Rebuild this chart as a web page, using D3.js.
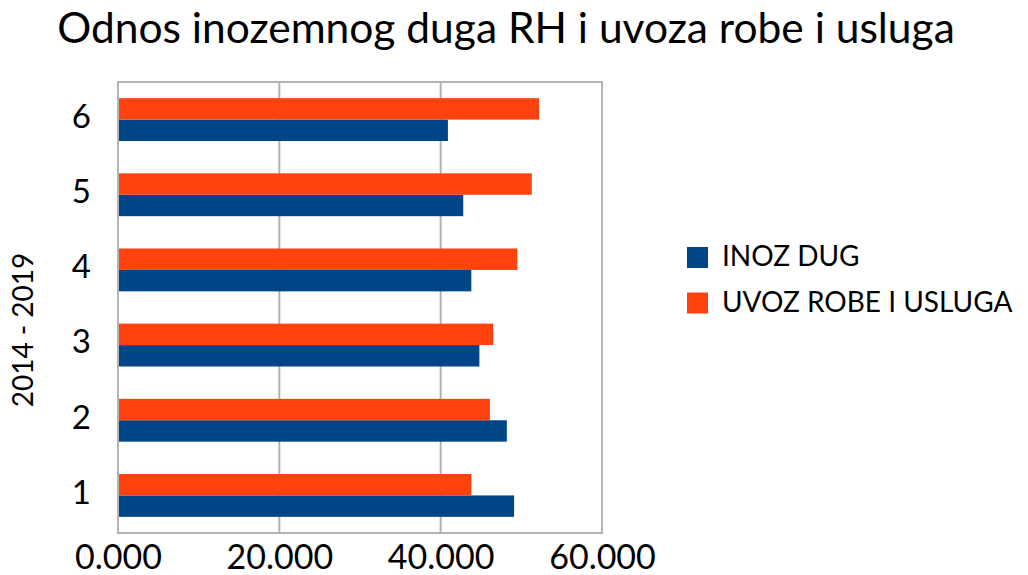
<!DOCTYPE html>
<html>
<head>
<meta charset="utf-8">
<script src="https://cdn.jsdelivr.net/npm/d3@7"></script>
<style>
  body { margin: 0; background: #fff; }
  text { font-family: Lato, "Open Sans", sans-serif; fill: #000; }
</style>
</head>
<body>
<div id="chart"></div>
<script>
// godine 2014 - 2019, oznacene 1..6
const categories = ["1", "2", "3", "4", "5", "6"];
const inozDug = [49.1, 48.2, 44.8, 43.8, 42.8, 40.9];
const uvoz = [43.8, 46.1, 46.5, 49.5, 51.3, 52.2];
const seriesNames = ["INOZ DUG", "UVOZ ROBE I USLUGA"];
const xTicks = [0, 20, 40, 60];

const width = 1028,
    height = 575,
    margin = ({ top: 82, right: 426, bottom: 42, left: 118 });

const colors = ["#004586", "#ff420e"];

const data = categories.map((c, i) => ({ cat: c, values: [inozDug[i], uvoz[i]] }));

let svg = d3.select("#chart")
    .append("svg")
    .attr("width", width)
    .attr("height", height);

const x = d3.scaleLinear()
    .domain([0, 60])
    .range([margin.left, width - margin.right]);

const y = d3.scaleBand()
    .domain(categories)
    .range([height - margin.bottom, margin.top])
    .paddingInner(0.43)
    .paddingOuter(0.215);

// blue series lower, orange upper
const ySub = d3.scaleBand()
    .domain([1, 0])
    .range([0, y.bandwidth()]);

// title
svg.append("text")
    .attr("x", 506)
    .attr("y", 43)
    .attr("text-anchor", "middle")
    .style("font-size", "42.5px")
    .text("Odnos inozemnog duga RH i uvoza robe i usluga");

// grid lines
svg.append("g")
    .selectAll("line")
    .data(xTicks.slice(1, -1))
    .join("line")
    .attr("x1", d => x(d))
    .attr("x2", d => x(d))
    .attr("y1", margin.top)
    .attr("y2", height - margin.bottom)
    .attr("stroke", "#b3b3b3")
    .attr("stroke-width", 2);

// bars
let group = svg.selectAll(".bar")
    .data(data)
    .join("g")
    .attr("class", "bar")
    .attr("transform", d => `translate(0, ${y(d.cat)})`);

group.selectAll("rect")
    .data(d => d.values.map((v, i) => ({ v, i })))
    .join("rect")
    .attr("x", x(0))
    .attr("y", d => ySub(d.i))
    .attr("width", d => x(d.v) - x(0))
    .attr("height", ySub.bandwidth())
    .attr("fill", d => colors[d.i]);

// frame
svg.append("rect")
    .attr("x", margin.left)
    .attr("y", margin.top)
    .attr("width", x(60) - x(0))
    .attr("height", height - margin.bottom - margin.top)
    .attr("fill", "none")
    .attr("stroke", "#b3b3b3")
    .attr("stroke-width", 2);

// x axis
const xAxis = (g) => g
    .attr("transform", `translate(0, ${height - margin.bottom})`)
    .call(d3.axisBottom(x).tickValues(xTicks).tickFormat(d3.format(".3f")).tickSize(0).tickPadding(12))
    .call(g => g.select(".domain").remove())
    .call(g => g.selectAll("text")
        .style("font-size", "34px")
        .attr("fill", "#000"));

const yAxis = (g) => g
    .attr("transform", `translate(${margin.left}, 0)`)
    .call(d3.axisLeft(y).tickSize(0).tickPadding(27))
    .call(g => g.select(".domain").remove())
    .call(g => g.selectAll("text")
        .style("font-size", "33px")
        .attr("dy", "0.25em")
        .attr("fill", "#000"));

svg.append("g").call(xAxis);
svg.append("g").call(yAxis);

// y axis title
svg.append("text")
    .attr("transform", "translate(33, 330) rotate(-90)")
    .attr("text-anchor", "middle")
    .style("font-size", "28px")
    .text("2014 - 2019");

// legend
let legend = svg.append("g")
    .selectAll("g")
    .data(seriesNames)
    .join("g")
    .attr("transform", (d, i) => `translate(687, ${247 + i * 45.5})`);

legend.append("rect")
    .attr("width", 21)
    .attr("height", 21)
    .attr("fill", (d, i) => colors[i]);

legend.append("text")
    .attr("x", 35)
    .attr("y", 19)
    .style("font-size", "28px")
    .text(d => d);
</script>
</body>
</html>
